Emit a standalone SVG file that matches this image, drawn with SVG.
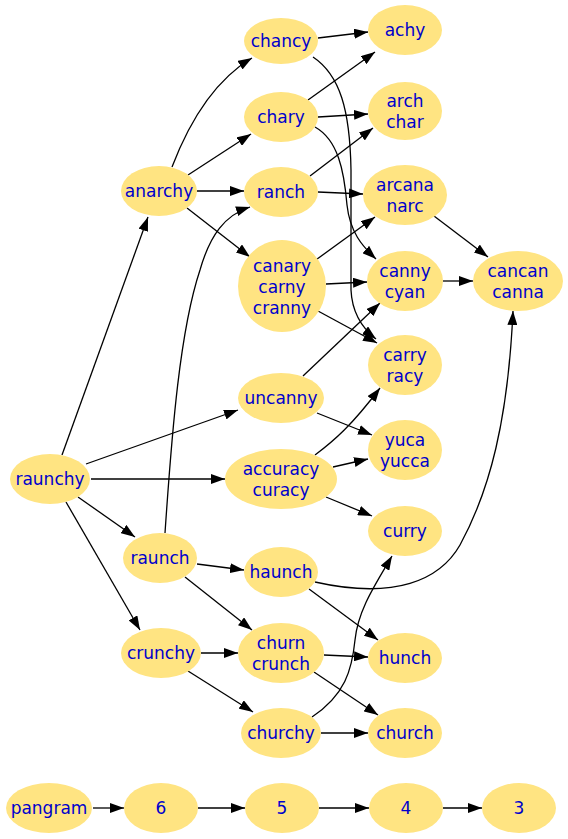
<svg xmlns="http://www.w3.org/2000/svg" width="568" height="839" viewBox="0 0 568 839">
<defs>
<marker id="ah" markerWidth="14" markerHeight="10" refX="14" refY="5" orient="auto" markerUnits="userSpaceOnUse">
<path d="M0,0 L14,5 L0,10 z" fill="#000"/>
</marker>
<style>
.n ellipse{fill:#ffe482;stroke:none}
.n text{font-family:"DejaVu Sans",Verdana,sans-serif;font-size:17px;fill:#0000cc;text-anchor:middle}
#edges path{fill:none;stroke:#000;stroke-width:1.3;marker-end:url(#ah)}
</style>
</defs>
<rect width="568" height="839" fill="#fff"/>
<g id="edges">
<path d="M62,455 L148,217"/>
<path d="M86,464 L238,410"/>
<path d="M91,479 L225,479"/>
<path d="M78,497 L135,537"/>
<path d="M66,502 L140,630"/>
<path d="M172,167 C190,120 215,80 252,58"/>
<path d="M188,175 L251,134"/>
<path d="M197,191 L244,191"/>
<path d="M187,208 L250,257"/>
<path d="M318,38 L368,32"/>
<path d="M313,57 C340,75 350,110 351,170 L351,290 C352,312 362,328 376,339"/>
<path d="M308,100 L375,52"/>
<path d="M318,117 L368,114"/>
<path d="M315,127 C338,140 344,170 347,205 C350,232 362,246 376,259"/>
<path d="M310,176 L373,128"/>
<path d="M318,192 L363,194"/>
<path d="M313,262 L375,217"/>
<path d="M326,284 L367,282"/>
<path d="M318,311 L377,343"/>
<path d="M434,216 L488,257"/>
<path d="M443,281 L473,281"/>
<path d="M303,376 L380,303"/>
<path d="M317,413 L372,435"/>
<path d="M315,455 C335,440 352,425 380,388"/>
<path d="M333,467 L368,459"/>
<path d="M326,497 L372,516"/>
<path d="M165,533 C172,430 180,330 200,270 C210,235 225,215 250,207"/>
<path d="M197,564 L244,570"/>
<path d="M185,577 L252,630"/>
<path d="M315,582 C395,600 440,580 460,545 C490,490 508,420 513,311"/>
<path d="M309,589 L378,640"/>
<path d="M201,653 L238,653"/>
<path d="M188,671 L253,712"/>
<path d="M324,655 L368,657"/>
<path d="M314,672 L378,715"/>
<path d="M312,717 C345,695 352,670 355,640 C358,610 375,585 392,556"/>
<path d="M321,733 L368,733"/>
<path d="M93,808 L124,808"/>
<path d="M198,808 L245,808"/>
<path d="M319,808 L369,808"/>
<path d="M443,808 L482,808"/>
</g>
<g id="raunchy" class="n"><ellipse cx="50" cy="479" rx="40" ry="25"/><text x="50" y="485">raunchy</text></g>
<g id="anarchy" class="n"><ellipse cx="159" cy="191" rx="38" ry="25"/><text x="159" y="197">anarchy</text></g>
<g id="chancy" class="n"><ellipse cx="281" cy="41" rx="37" ry="23"/><text x="281" y="47">chancy</text></g>
<g id="chary" class="n"><ellipse cx="281" cy="117" rx="37" ry="25"/><text x="281" y="123">chary</text></g>
<g id="ranch" class="n"><ellipse cx="281" cy="192" rx="37" ry="25"/><text x="281" y="198">ranch</text></g>
<g id="canary" class="n"><ellipse cx="282" cy="286" rx="44" ry="46"/><text x="282" y="272">canary</text><text x="282" y="293">carny</text><text x="282" y="314">cranny</text></g>
<g id="uncanny" class="n"><ellipse cx="281" cy="398" rx="43" ry="25"/><text x="281" y="404">uncanny</text></g>
<g id="accuracy" class="n"><ellipse cx="281" cy="479" rx="56" ry="30"/><text x="281" y="475">accuracy</text><text x="281" y="496">curacy</text></g>
<g id="raunch" class="n"><ellipse cx="160" cy="558" rx="37" ry="25"/><text x="160" y="564">raunch</text></g>
<g id="haunch" class="n"><ellipse cx="281" cy="572" rx="37" ry="25"/><text x="281" y="578">haunch</text></g>
<g id="crunchy" class="n"><ellipse cx="161" cy="653" rx="40" ry="25"/><text x="161" y="659">crunchy</text></g>
<g id="churn" class="n"><ellipse cx="281" cy="653" rx="43" ry="30"/><text x="281" y="649">churn</text><text x="281" y="670">crunch</text></g>
<g id="churchy" class="n"><ellipse cx="281" cy="733" rx="40" ry="25"/><text x="281" y="739">churchy</text></g>
<g id="achy" class="n"><ellipse cx="405" cy="30" rx="37" ry="25"/><text x="405" y="36">achy</text></g>
<g id="arch" class="n"><ellipse cx="405" cy="111" rx="37" ry="29"/><text x="405" y="107">arch</text><text x="405" y="128">char</text></g>
<g id="arcana" class="n"><ellipse cx="405" cy="195" rx="42" ry="30"/><text x="405" y="191">arcana</text><text x="405" y="212">narc</text></g>
<g id="canny" class="n"><ellipse cx="405" cy="281" rx="38" ry="30"/><text x="405" y="277">canny</text><text x="405" y="298">cyan</text></g>
<g id="carry" class="n"><ellipse cx="405" cy="365" rx="37" ry="30"/><text x="405" y="361">carry</text><text x="405" y="382">racy</text></g>
<g id="yuca" class="n"><ellipse cx="405" cy="450" rx="37" ry="30"/><text x="405" y="446">yuca</text><text x="405" y="467">yucca</text></g>
<g id="curry" class="n"><ellipse cx="405" cy="531" rx="37" ry="25"/><text x="405" y="537">curry</text></g>
<g id="hunch" class="n"><ellipse cx="405" cy="658" rx="37" ry="25"/><text x="405" y="664">hunch</text></g>
<g id="church" class="n"><ellipse cx="405" cy="733" rx="37" ry="25"/><text x="405" y="739">church</text></g>
<g id="cancan" class="n"><ellipse cx="518" cy="281" rx="45" ry="30"/><text x="518" y="277">cancan</text><text x="518" y="298">canna</text></g>
<g id="pangram" class="n"><ellipse cx="49" cy="808" rx="43" ry="25"/><text x="49" y="814">pangram</text></g>
<g id="n6" class="n"><ellipse cx="161" cy="808" rx="37" ry="25"/><text x="161" y="814">6</text></g>
<g id="n5" class="n"><ellipse cx="282" cy="808" rx="37" ry="25"/><text x="282" y="814">5</text></g>
<g id="n4" class="n"><ellipse cx="406" cy="808" rx="37" ry="25"/><text x="406" y="814">4</text></g>
<g id="n3" class="n"><ellipse cx="519" cy="808" rx="37" ry="25"/><text x="519" y="814">3</text></g>
</svg>
